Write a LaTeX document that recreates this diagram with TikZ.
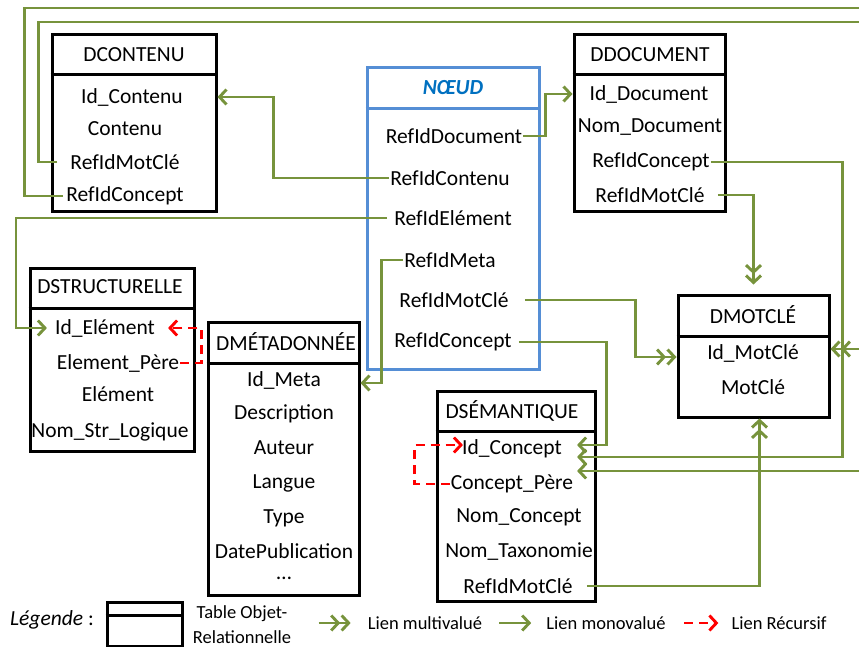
\documentclass[tikz,border=0pt]{standalone}
\usepackage{fontspec}
\setmainfont{Carlito}
\usetikzlibrary{arrows.meta}
\definecolor{vert}{RGB}{119,147,60}
\definecolor{bleu}{RGB}{85,142,213}
\definecolor{titrebleu}{RGB}{0,112,192}
\tikzset{
  tbl/.style={draw, line width=3pt, inner sep=0pt},
  fld/.style={font=\fontsize{21.5}{26}\selectfont, inner sep=1pt},
  leg/.style={font=\fontsize{18.5}{25}\selectfont, inner sep=1pt},
  mono/.style={draw=vert, line width=2.9pt, -{Straight Barb[length=7pt,width=15pt]}},
  multiv/.style={draw=vert, line width=2.9pt, -{Straight Barb[length=7pt,width=15pt] Straight Barb[length=7pt,width=15pt]}},
  recur/.style={draw=red, line width=2.9pt, dash pattern=on 9pt off 6pt, -{Straight Barb[length=7pt,width=15pt]}}
}
\begin{document}
\begin{tikzpicture}[x=1pt,y=-1pt]
  \useasboundingbox (0,0) rectangle (859,647);

  % DCONTENU
  \node[tbl, minimum width=164pt, minimum height=177pt] (dcontenu) at (134,123.5) {};
  \draw[tbl] (dcontenu.west |- 0,75) -- (dcontenu.east |- 0,75);
  \node[fld] (c-titre) at (134,55) {DCONTENU};
  \node[fld] (c-id) at (132,97) {Id\_Contenu};
  \node[fld] (c-cont) at (125,129) {Contenu};
  \node[fld] (c-mot) at (125,162) {RefIdMotClé};
  \node[fld] (c-conc) at (125,196) {RefIdConcept};

  % NŒUD
  \node[tbl, draw=bleu, minimum width=172pt, minimum height=301pt] (noeud) at (453,218.5) {};
  \draw[tbl, draw=bleu] (noeud.west |- 0,109) -- (noeud.east |- 0,109);
  \node[fld, font=\fontsize{21.5}{26}\selectfont\bfseries\itshape, text=titrebleu] (n-titre) at (453,88) {NŒUD};
  \node[fld] (n-doc) at (454,136) {RefIdDocument};
  \node[fld] (n-cont) at (450,178) {RefIdContenu};
  \node[fld] (n-elt) at (453,218) {RefIdElément};
  \node[fld] (n-meta) at (450,260) {RefIdMeta};
  \node[fld] (n-mot) at (454,300) {RefIdMotClé};
  \node[fld] (n-conc) at (453,342) {RefIdConcept};

  % DDOCUMENT
  \node[tbl, minimum width=151pt, minimum height=177pt] (ddoc) at (649.5,123.5) {};
  \draw[tbl] (ddoc.west |- 0,75) -- (ddoc.east |- 0,75);
  \node[fld] (d-titre) at (650,55) {DDOCUMENT};
  \node[fld] (d-id) at (649,94) {Id\_Document};
  \node[fld] (d-nom) at (650,127) {Nom\_Document};
  \node[fld] (d-conc) at (651,162) {RefIdConcept};
  \node[fld] (d-mot) at (650,195) {RefIdMotClé};

  % DMOTCLÉ
  \node[tbl, minimum width=151pt, minimum height=122pt] (dmot) at (753.5,356) {};
  \draw[tbl] (dmot.west |- 0,336) -- (dmot.east |- 0,336);
  \node[fld] (k-titre) at (753,315) {DMOTCLÉ};
  \node[fld] (k-id) at (753,353) {Id\_MotClé};
  \node[fld] (k-mot) at (753,387) {MotClé};

  % DSTRUCTURELLE
  \node[tbl, minimum width=164pt, minimum height=183pt] (dstruct) at (112,359.5) {};
  \draw[tbl] (dstruct.west |- 0,308) -- (dstruct.east |- 0,308);
  \node[fld] (st-titre) at (110,287) {DSTRUCTURELLE};
  \node[fld] (st-id) at (105,328) {Id\_Elément};
  \node[fld] (st-pere) at (118,363) {Element\_Père};
  \node[fld] (st-elt) at (118,394) {Elément};
  \node[fld] (st-nom) at (110,432) {Nom\_Str\_Logique};

  % DMÉTADONNÉE
  \node[tbl, minimum width=151pt, minimum height=273pt] (dmeta) at (283.5,458.5) {};
  \draw[tbl] (dmeta.west |- 0,363) -- (dmeta.east |- 0,363);
  \begin{scope}
    \clip (dmeta.north west) rectangle (dmeta.east |- 0,363);
    \node[fld, anchor=west] (m-titre) at (215,342) {DMÉTADONNÉE};
  \end{scope}
  \node[fld] (m-id) at (284,380) {Id\_Meta};
  \node[fld] (m-desc) at (284,414) {Description};
  \node[fld] (m-aut) at (284,448) {Auteur};
  \node[fld] (m-lang) at (284,483) {Langue};
  \node[fld] (m-type) at (284,518) {Type};
  \node[fld] (m-date) at (284,551) {DatePublication};
  \node[fld] (m-etc) at (284,578) {…};

  % DSÉMANTIQUE
  \node[tbl, minimum width=158pt, minimum height=210pt] (dsem) at (516,496) {};
  \draw[tbl] (dsem.west |- 0,431) -- (dsem.east |- 0,431);
  \node[fld] (s-titre) at (512,411) {DSÉMANTIQUE};
  \node[fld] (s-id) at (512,449) {Id\_Concept};
  \node[fld] (s-pere) at (512,484) {Concept\_Père};
  \node[fld] (s-nom) at (519,517) {Nom\_Concept};
  \node[fld] (s-tax) at (519,552) {Nom\_Taxonomie};
  \node[fld] (s-mot) at (518,586) {RefIdMotClé};
  \coordinate (s-in) at ([xshift=14pt]s-id.east);

  % liens
  \draw[mono] (n-doc.east) -- ++(22,0) |- (ddoc.west |- d-id);
  \draw[mono] (n-cont.west) -- ++(-116,0) |- (dcontenu.east |- c-id);
  \draw[mono] ([xshift=-6pt]n-elt.west) -| (16,300) |- ([xshift=-7pt]st-id.west);
  \draw[mono] (n-meta.west) -- ++(-22,0) |- (dmeta.east |- 0,383);
  \draw[multiv] ([xshift=15pt]n-mot.east) -- ++(111,0) |- (dmot.west |- 0,357);
  \draw[mono] ([xshift=6pt]n-conc.east) -- ++(88,0) |- (s-in |- 0,445);
  \draw[mono] (d-conc.east) -- ++(132,0) |- (s-in |- 0,457);
  \draw[multiv] ([xshift=12pt]d-mot.east) -| ([yshift=9pt]dmot.north);
  \draw[multiv] ([xshift=13pt]s-mot.east) -| ([xshift=6pt]dmot.south);
  \draw[multiv] ([xshift=-12pt]c-mot.west) -- ++(-19,0) |- (864,22) |- (dmot.east |- 0,349);
  \draw[mono] ([xshift=-2pt]c-conc.west) -- ++(-39,0) |- (872,8) |- (s-in |- 0,471);
  \draw[recur] (st-pere.east) -- ++(21,0) |- ([xshift=12pt]st-id.east);
  \draw[recur] (s-pere.west) -- ++(-35,0) |- ([xshift=2pt,yshift=4pt]s-id.west);

  % légende
  \node[fld] (leg-titre) at (52,620) {\itshape Légende\/ \upshape:};
  \node[tbl, minimum width=75pt, minimum height=44pt] (leg-tbl) at (144.5,624) {};
  \draw[tbl] (leg-tbl.west |- 0,615) -- (leg-tbl.east |- 0,615);
  \node[leg, align=center] (leg-txt) at (242,625) {Table Objet-\\Relationnelle};
  \node[leg] (leg-multi) at (425,623) {Lien multivalué};
  \node[leg] (leg-mono) at (606,623) {Lien monovalué};
  \node[leg] (leg-rec) at (779,623) {Lien Récursif};
  \draw[multiv] ([xshift=-48pt]leg-multi.west) -- ([xshift=-16pt]leg-multi.west);
  \draw[mono] ([xshift=-46pt]leg-mono.west) -- ([xshift=-14pt]leg-mono.west);
  \draw[recur] ([xshift=-46pt]leg-rec.west) -- ([xshift=-12pt]leg-rec.west);
\end{tikzpicture}
\end{document}
